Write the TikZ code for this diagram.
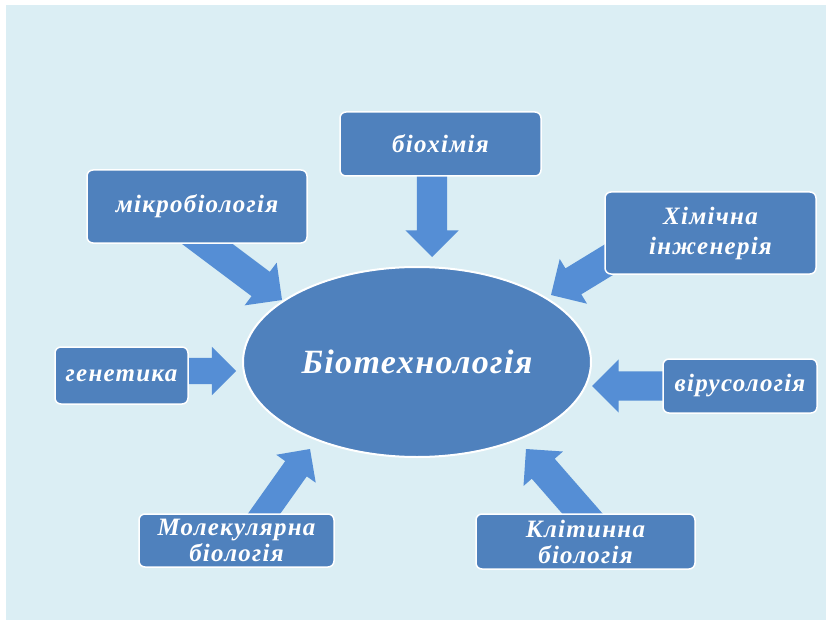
\documentclass[tikz,border=0pt]{standalone}
\usepackage{fontspec}
\setmainfont{Liberation Serif}
\newfontfamily\boxfont[LetterSpace=5]{Liberation Serif}
\newfontfamily\bigfont[LetterSpace=4]{Liberation Serif}
\usetikzlibrary{shapes.arrows,shapes.geometric}
\definecolor{bgc}{HTML}{DBEEF4}
\definecolor{boxc}{HTML}{4F81BD}
\definecolor{arrc}{HTML}{558ED5}
\begin{document}
\begin{tikzpicture}[x=1pt,y=-1pt,
  box/.style={draw=white, line width=1.5pt, fill=boxc, rounded corners=6pt,
    text=white, font=\boxfont\fontsize{25}{30}\selectfont\bfseries\itshape,
    align=center, inner sep=0pt},
  barrow/.style={single arrow, fill=arrc, draw=none, inner xsep=0pt,
    outer sep=0pt, single arrow tip angle=90, sloped, allow upside down,
    anchor=tip, pos=1}]
\useasboundingbox (0,0) rectangle (826,620);
\fill[bgc] (6,5) rectangle (826,620);
% arrow end points
\coordinate (t1) at (432,170);   \coordinate (h1) at (432,257);
\coordinate (t2) at (186,228);   \coordinate (h2) at (282,300);
\coordinate (t3) at (628,248);   \coordinate (h3) at (551,295);
\coordinate (t4) at (175,371);   \coordinate (h4) at (236,371);
\coordinate (t5) at (675,386);   \coordinate (h5) at (592,386);
\coordinate (t6) at (255,526.5); \coordinate (h6) at (310,449);
\coordinate (t7) at (595,528);   \coordinate (h7) at (526,449);
% block arrows
\path (t1) -- node[barrow, inner ysep=15pt, single arrow head extend=11.5pt, minimum height=87pt] (a1) {} (h1);
\path (t2) -- node[barrow, inner ysep=15pt, single arrow head extend=11.5pt, minimum height=120pt] (a2) {} (h2);
\path (t3) -- node[barrow, inner ysep=15pt, single arrow head extend=11pt, minimum height=90pt] (a3) {} (h3);
\path (t4) -- node[barrow, inner ysep=13pt, single arrow head extend=11pt, minimum height=61pt] (a4) {} (h4);
\path (t5) -- node[barrow, inner ysep=14.5pt, single arrow head extend=12pt, minimum height=83pt] (a5) {} (h5);
\path (t6) -- node[barrow, inner ysep=13pt, single arrow head extend=11pt, minimum height=95pt] (a6) {} (h6);
\path (t7) -- node[barrow, inner ysep=15pt, single arrow head extend=11pt, minimum height=105pt] (a7) {} (h7);
% boxes
\node[box, minimum width=201pt, minimum height=64pt] (bio) at (440.5,144) {біохімія};
\node[box, minimum width=220pt, minimum height=73pt] (mik) at (197,206.5) {мікробіологія};
\node[box, minimum width=211pt, minimum height=82pt] (him) at (710.5,233) {Хімічна\\інженерія};
\node[box, minimum width=133pt, minimum height=57pt] (gen) at (121.5,375.5) {генетика};
\node[box, minimum width=154pt, minimum height=54pt] (vir) at (740,386) {вірусологія};
\node[box, minimum width=195pt, minimum height=53pt, font=\boxfont\fontsize{25}{26}\selectfont\bfseries\itshape] (mol) at (236.5,540.5) {Молекулярна\\біологія};
\node[box, minimum width=219pt, minimum height=55pt, font=\boxfont\fontsize{25}{26}\selectfont\bfseries\itshape] (kli) at (585.5,541.5) {Клітинна\\біологія};
% central ellipse
\node[ellipse, draw=white, line width=2pt, fill=boxc, minimum width=348pt,
  minimum height=190pt, inner sep=0pt, text=white,
  font=\bigfont\fontsize{34}{40}\selectfont\bfseries\itshape] (bt) at (417,362) {Біотехнологія};
\end{tikzpicture}
\end{document}
